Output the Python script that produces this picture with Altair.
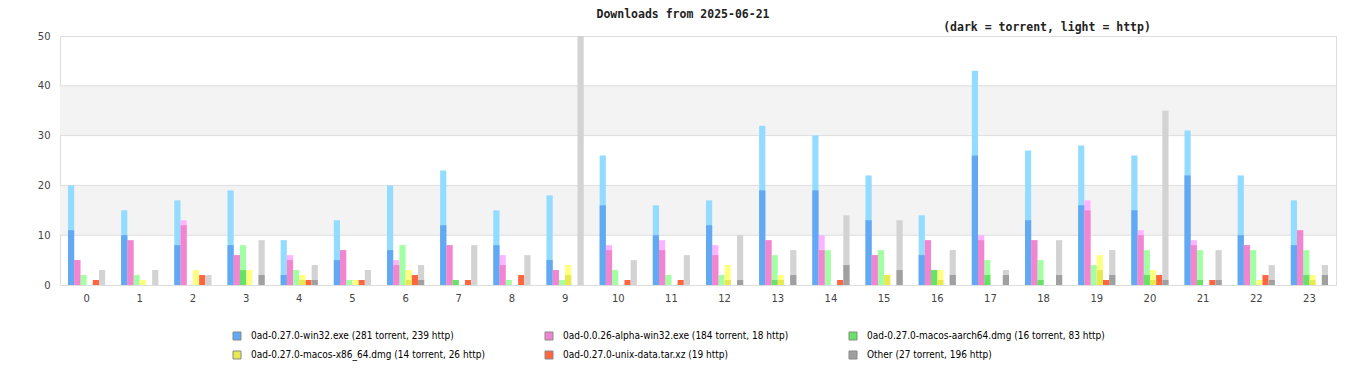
import altair as alt
import pandas as pd

hours = list(range(24))

series_names = [
    "0ad-0.27.0-win32.exe",
    "0ad-0.0.26-alpha-win32.exe",
    "0ad-0.27.0-macos-aarch64.dmg",
    "0ad-0.27.0-macos-x86_64.dmg",
    "0ad-0.27.0-unix-data.tar.xz",
    "Other",
]

win32_torrent = [11, 10, 8, 8, 2, 5, 7, 12, 8, 5, 16, 10, 12, 19, 19, 13, 6, 26, 13, 16, 15, 22, 10, 8]
win32_http = [9, 5, 9, 11, 7, 8, 13, 11, 7, 13, 10, 6, 5, 13, 11, 9, 8, 17, 14, 12, 11, 9, 12, 9]
alpha_torrent = [5, 9, 12, 6, 5, 7, 4, 8, 4, 3, 7, 7, 6, 9, 7, 6, 9, 9, 9, 15, 10, 8, 8, 11]
alpha_http = [0, 0, 1, 0, 1, 0, 1, 0, 2, 0, 1, 2, 2, 0, 3, 0, 0, 1, 0, 2, 1, 1, 0, 0]
aarch_torrent = [0, 0, 0, 3, 0, 0, 0, 1, 0, 0, 0, 0, 0, 1, 0, 0, 3, 2, 1, 0, 2, 1, 0, 2]
aarch_http = [2, 2, 0, 5, 3, 1, 8, 0, 1, 1, 3, 2, 2, 5, 7, 7, 0, 3, 4, 4, 5, 6, 7, 5]
x86_torrent = [0, 0, 0, 0, 1, 0, 1, 0, 0, 2, 0, 0, 1, 1, 0, 2, 1, 0, 0, 3, 1, 0, 0, 1]
x86_http = [0, 1, 3, 3, 1, 1, 2, 0, 0, 2, 0, 0, 3, 1, 0, 0, 2, 0, 0, 3, 2, 0, 1, 1]
unix_torrent = [0] * 24
unix_http = [1, 0, 2, 0, 1, 1, 2, 1, 2, 0, 1, 1, 0, 0, 1, 0, 0, 0, 0, 1, 2, 1, 2, 0]
other_torrent = [0, 0, 0, 2, 1, 0, 1, 0, 0, 0, 0, 0, 1, 2, 4, 3, 2, 2, 2, 2, 1, 1, 1, 2]
other_http = [3, 3, 2, 7, 3, 3, 3, 8, 6, 50, 5, 6, 9, 5, 10, 10, 5, 1, 7, 5, 34, 6, 3, 2]

torrent = [win32_torrent, alpha_torrent, aarch_torrent, x86_torrent, unix_torrent, other_torrent]
http = [win32_http, alpha_http, aarch_http, x86_http, unix_http, other_http]

dark_colors = ["#63a8f2", "#f285d0", "#66e366", "#e8e850", "#ff6640", "#a0a0a0"]
light_colors = ["#93dbff", "#ffb3ff", "#a3ffa3", "#ffff80", "#ff6640", "#d3d3d3"]

band_lo = [10, 30]
band_hi = [20, 40]
grid_vals = [10, 20, 30, 40]

title_text = "Downloads from 2025-06-21"
subtitle_text = "(dark = torrent, light = http)"

labels = []
rows = []
for i, name in enumerate(series_names):
    ts, hs = sum(torrent[i]), sum(http[i])
    label = f"{name} ({ts} torrent, {hs} http)" if ts else f"{name} ({hs} http)"
    labels.append(label)
    for h in hours:
        t = torrent[i][h]
        hh = http[i][h]
        rows.append(dict(hour=h, series=label, total=t + hh, torrent=t, light=light_colors[i]))
df = pd.DataFrame(rows)

W, H = 1276, 249

xenc = alt.X(
    "hour:O",
    scale=alt.Scale(paddingInner=0.3, paddingOuter=0.15),
    axis=alt.Axis(title=None, labelAngle=0, ticks=False, domain=False, grid=False,
                  labelPadding=8, labelFont="DejaVu Sans", labelFontSize=10, labelColor="#444"),
)
xoff = alt.XOffset("series:N", sort=labels, scale=alt.Scale(domain=labels, paddingInner=0, paddingOuter=0))
yscale = alt.Scale(domain=[0, 50], nice=False)
yaxis = alt.Axis(title=None, ticks=False, domain=False, grid=False, values=[0, 10, 20, 30, 40, 50],
                 labelPadding=10, labelFont="DejaVu Sans", labelFontSize=10, labelColor="#444")

bands = alt.Chart(pd.DataFrame({"lo": band_lo, "hi": band_hi})).mark_rect(color="#f3f3f3").encode(
    x=alt.value(0), x2=alt.value(W),
    y=alt.Y("lo:Q", scale=yscale, axis=yaxis), y2="hi:Q",
)
grid = alt.Chart(pd.DataFrame({"g": grid_vals})).mark_rule(color="#dddddd", strokeWidth=1).encode(
    y=alt.Y("g:Q", scale=yscale), x=alt.value(0), x2=alt.value(W),
)

base = alt.Chart(df)
light = base.mark_bar(opacity=1).encode(
    x=xenc, xOffset=xoff,
    y=alt.Y("total:Q", scale=yscale),
    fill=alt.Fill("light:N", scale=None),
).transform_filter("datum.total > 0")
dark = base.mark_bar(opacity=1).encode(
    x=xenc, xOffset=xoff,
    y=alt.Y("torrent:Q", scale=yscale),
    color=alt.Color(
        "series:N",
        scale=alt.Scale(domain=labels, range=dark_colors),
        legend=alt.Legend(
            title=None, orient="none", legendX=172, legendY=295,
            direction="horizontal", columns=3, gridAlign="each", columnPadding=58, rowPadding=7,
            symbolType="square", symbolSize=64, symbolStrokeColor="#888", symbolStrokeWidth=1,
            symbolOpacity=1, labelFont="DejaVu Sans Condensed", labelFontSize=10, labelColor="#000",
            labelOffset=9, labelLimit=400,
        ),
    ),
).transform_filter("datum.torrent > 0")

title = alt.Chart(pd.DataFrame({"t": [title_text]})).mark_text(
    font="DejaVu Sans Mono", fontSize=11.5, fontWeight="bold", color="#222", align="center", baseline="middle"
).encode(text="t:N", x=alt.value(623), y=alt.value(-21))
subtitle = alt.Chart(pd.DataFrame({"t": [subtitle_text]})).mark_text(
    font="DejaVu Sans Mono", fontSize=11.5, fontWeight="bold", color="#222", align="center", baseline="middle"
).encode(text="t:N", x=alt.value(987), y=alt.value(-8))

chart = alt.layer(bands, grid, light, dark, title, subtitle).properties(
    width=W, height=H,
    autosize=alt.AutoSizeParams(type="none"),
    padding={"left": 52, "top": 28, "right": 14, "bottom": 90},
).configure_view(stroke="#dddddd", strokeWidth=1).configure(background="white")

chart.save("out.html", embed_options={"renderer": "svg", "actions": False})
